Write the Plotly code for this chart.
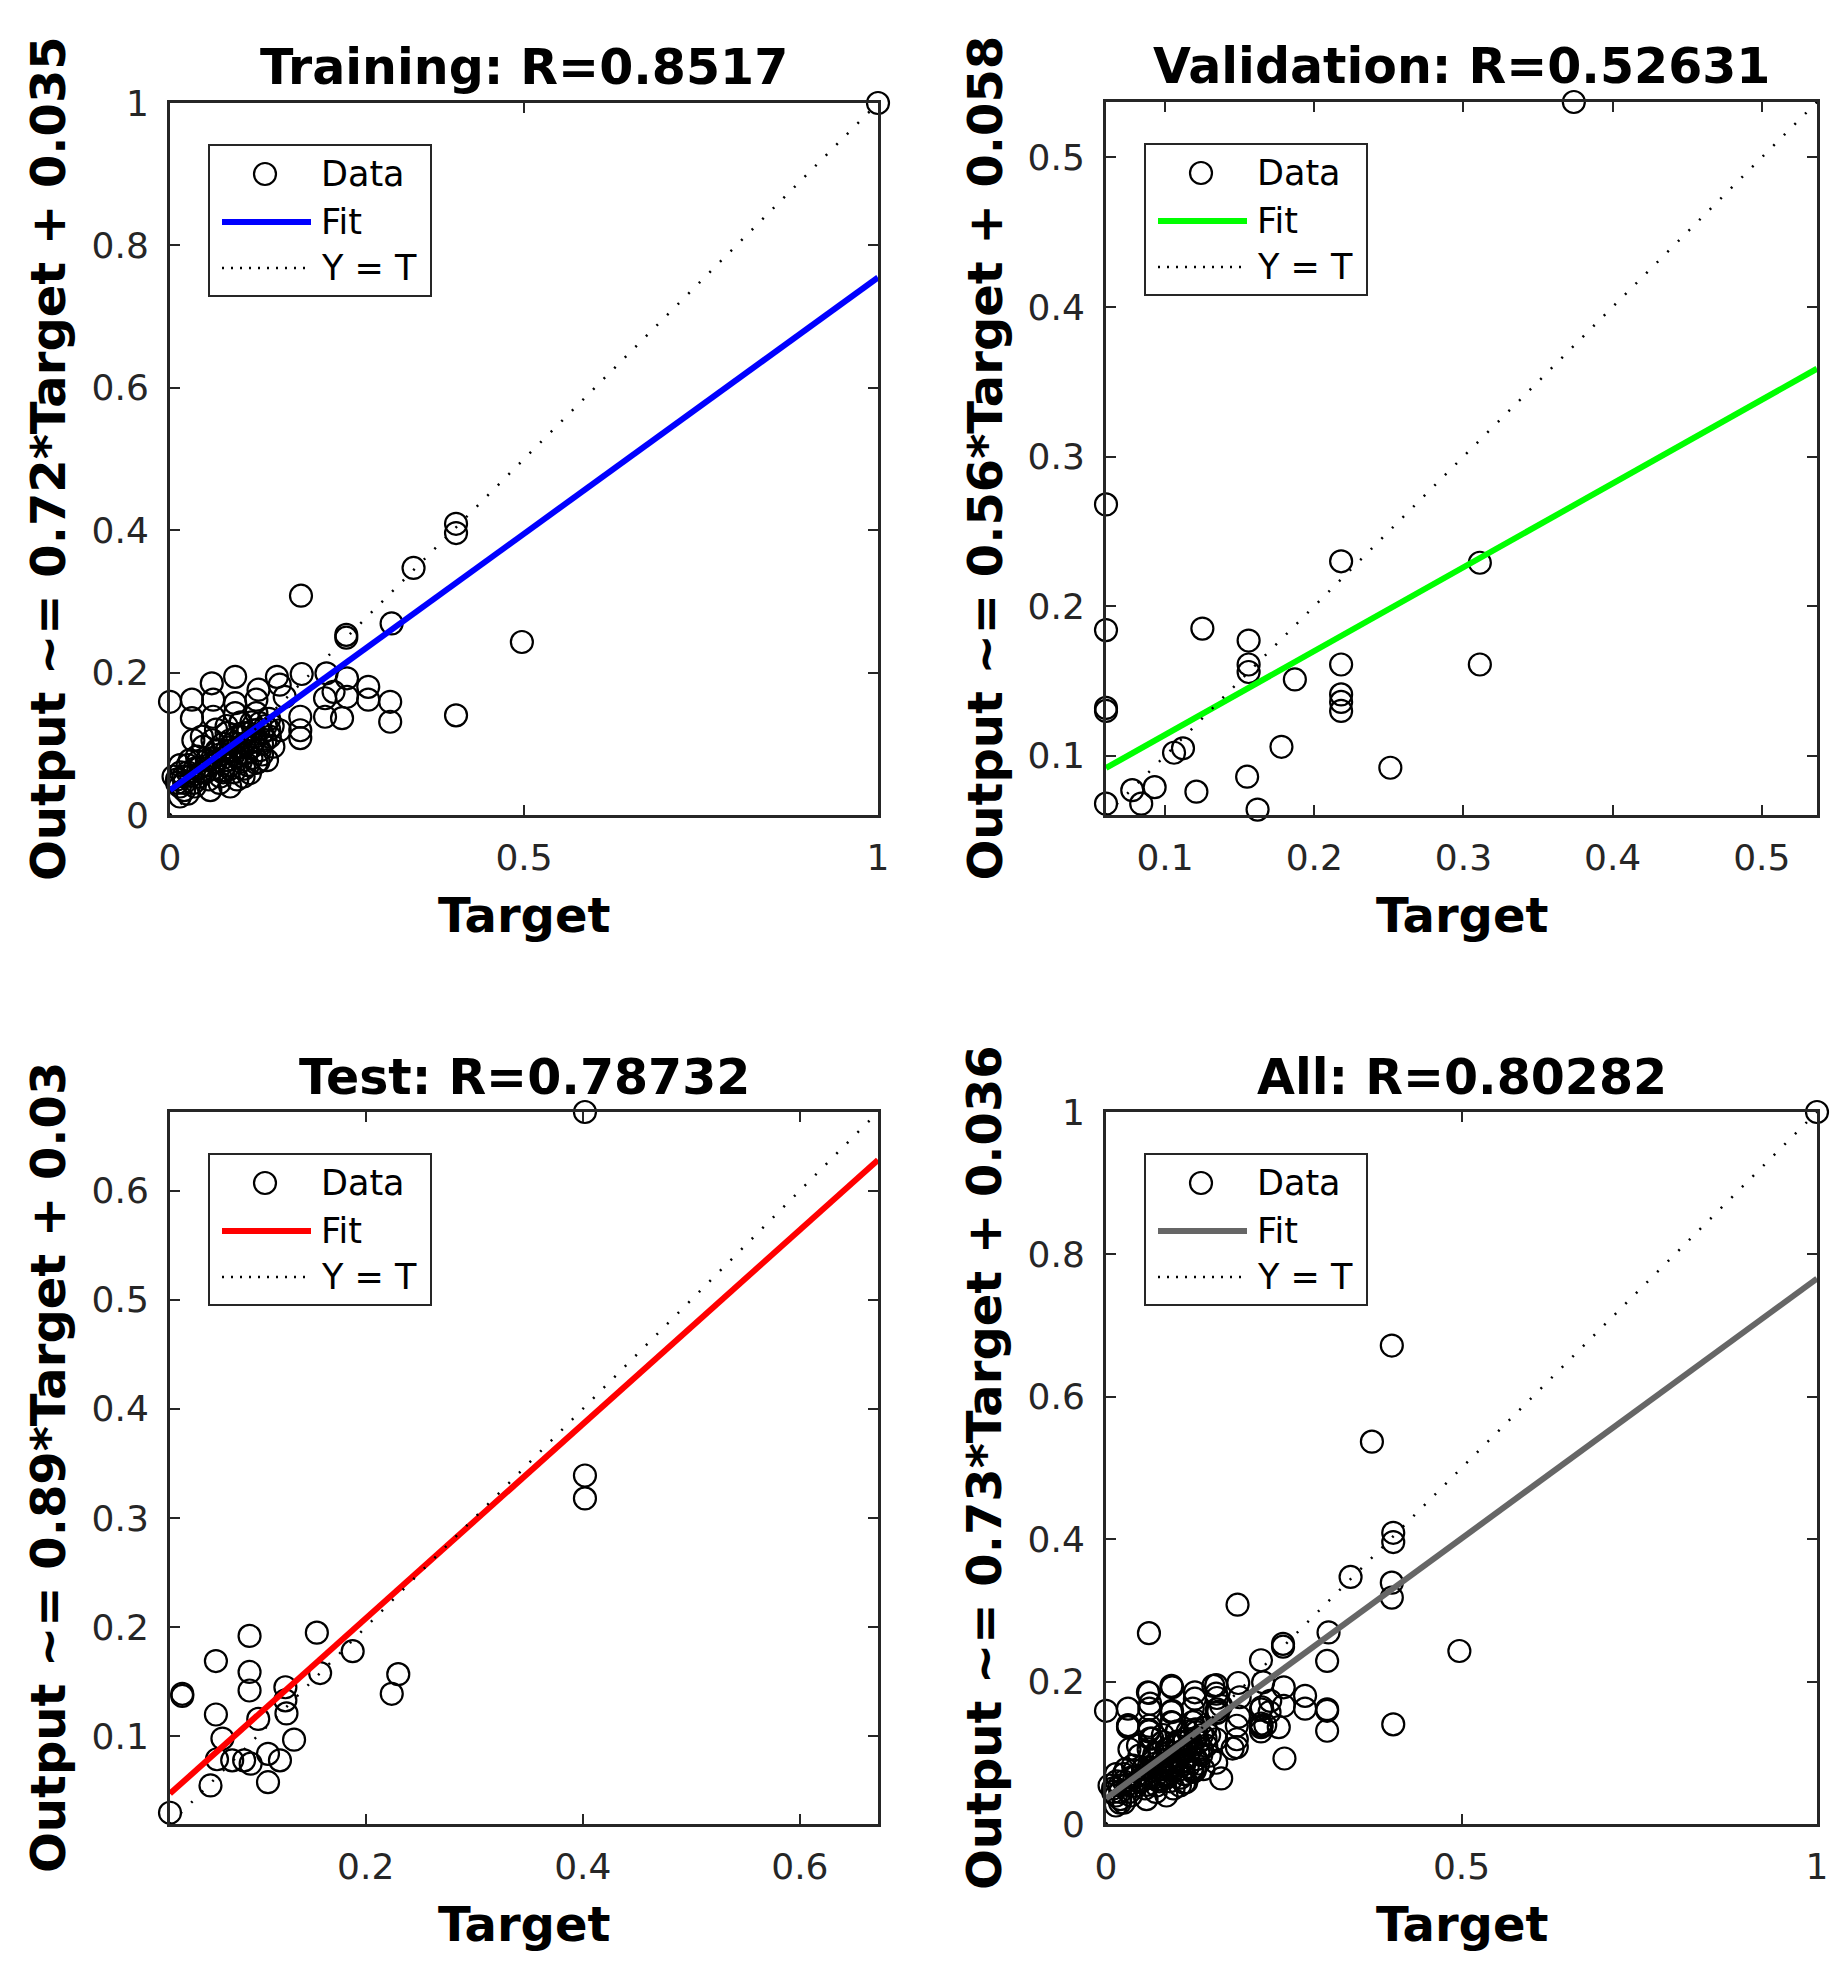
import plotly.graph_objects as go

# ==========================================
# 1. data
# ==========================================
train_target = [
    1.000, 0.404, 0.404, 0.344, 0.185, 0.313, 0.249, 0.249, 0.497, 0.404,
    0.092, 0.151, 0.186, 0.221, 0.250, 0.059, 0.155, 0.125, 0.280, 0.231,
    0.000, 0.031, 0.061, 0.092, 0.122, 0.162, 0.219, 0.250, 0.280, 0.311,
    0.031, 0.061, 0.122, 0.184, 0.219, 0.243, 0.311, 0.184, 0.184, 0.155,
    0.033, 0.092, 0.099, 0.127, 0.141, 0.146,
    0.005, 0.014, 0.014, 0.033, 0.028, 0.052, 0.042, 0.071, 0.085, 0.104,
    0.113, 0.080, 0.090, 0.104, 0.118, 0.127, 0.137, 0.122, 0.094, 0.108,
    0.080, 0.066, 0.047, 0.075, 0.038, 0.019, 0.057, 0.014,
    0.060, 0.070, 0.085, 0.095, 0.100, 0.110, 0.115, 0.120, 0.130, 0.090,
    0.050, 0.040, 0.025, 0.060, 0.075, 0.105, 0.130, 0.135, 0.140, 0.100,
    0.085, 0.020, 0.010,
    0.010, 0.015, 0.020, 0.025, 0.030, 0.035, 0.040, 0.045, 0.085, 0.055,
    0.060, 0.065, 0.075, 0.075, 0.080, 0.085, 0.090, 0.095, 0.100, 0.105,
    0.110, 0.115, 0.120, 0.125, 0.130, 0.135, 0.140, 0.145, 0.070, 0.095,
    0.110, 0.125, 0.055, 0.035, 0.025, 0.065, 0.045, 0.080, 0.100, 0.115,
]
train_output = [
    1.000, 0.409, 0.396, 0.347, 0.308, 0.269, 0.253, 0.249, 0.243, 0.140,
    0.194, 0.194, 0.198, 0.199, 0.192, 0.185, 0.183, 0.176, 0.180, 0.173,
    0.159, 0.162, 0.162, 0.157, 0.162, 0.166, 0.164, 0.166, 0.162, 0.159,
    0.136, 0.138, 0.143, 0.138, 0.138, 0.136, 0.131, 0.119, 0.108, 0.119,
    0.105, 0.143, 0.129, 0.129, 0.110, 0.096,
    0.054, 0.070, 0.026, 0.045, 0.077, 0.077, 0.054, 0.054, 0.040, 0.054,
    0.059, 0.077, 0.101, 0.115, 0.119, 0.091, 0.077, 0.073, 0.082, 0.087,
    0.115, 0.091, 0.096, 0.063, 0.082, 0.054, 0.035, 0.040,
    0.065, 0.085, 0.070, 0.095, 0.075, 0.100, 0.080, 0.105, 0.100, 0.060,
    0.060, 0.065, 0.060, 0.105, 0.100, 0.065, 0.115, 0.125, 0.135, 0.110,
    0.090, 0.035, 0.045,
    0.050, 0.060, 0.045, 0.070, 0.055, 0.065, 0.075, 0.060, 0.065, 0.070,
    0.080, 0.075, 0.060, 0.080, 0.090, 0.105, 0.085, 0.110, 0.095, 0.100,
    0.115, 0.095, 0.110, 0.120, 0.085, 0.105, 0.120, 0.125, 0.045, 0.050,
    0.070, 0.075, 0.050, 0.040, 0.030, 0.120, 0.110, 0.125, 0.130, 0.130,
]

val_target = [
    0.374, 0.0604, 0.0604, 0.0604, 0.0604, 0.0604, 0.078, 0.084, 0.093, 0.106,
    0.112, 0.121, 0.125, 0.156, 0.156, 0.156, 0.155, 0.162, 0.178, 0.187,
    0.218, 0.218, 0.218, 0.218, 0.218, 0.251, 0.311, 0.311,
]
val_output = [
    0.537, 0.268, 0.184, 0.132, 0.130, 0.068, 0.077, 0.068, 0.079, 0.102,
    0.105, 0.076, 0.185, 0.177, 0.161, 0.156, 0.086, 0.064, 0.106, 0.151,
    0.230, 0.161, 0.141, 0.136, 0.130, 0.092, 0.229, 0.161,
]

test_target = [
    0.0197, 0.031, 0.031, 0.062, 0.062, 0.068, 0.057, 0.063, 0.077, 0.088,
    0.093, 0.093, 0.093, 0.094, 0.101, 0.110, 0.121, 0.110, 0.126, 0.126,
    0.127, 0.134, 0.155, 0.158, 0.188, 0.230, 0.224, 0.402, 0.402, 0.402,
]
test_output = [
    0.030, 0.137, 0.139, 0.169, 0.120, 0.098, 0.055, 0.079, 0.078, 0.078,
    0.192, 0.159, 0.142, 0.075, 0.116, 0.084, 0.078, 0.058, 0.145, 0.133,
    0.121, 0.097, 0.195, 0.158, 0.178, 0.157, 0.139, 0.672, 0.339, 0.318,
]

all_target = train_target + val_target + test_target
all_output = train_output + val_output + test_output

panel_names = ["Training", "Validation", "Test", "All"]
r_values = ["0.8517", "0.52631", "0.78732", "0.80282"]
fit_slope = [0.72, 0.56, 0.89, 0.73]
fit_offset = [0.035, 0.058, 0.03, 0.036]
fit_colors = ["#0000ff", "#00ff00", "#ff0000", "#666666"]
x_dtick = [0.5, 0.1, 0.2, 0.5]
y_dtick = [0.2, 0.1, 0.1, 0.2]

targets = [train_target, val_target, test_target, all_target]
outputs = [train_output, val_output, test_output, all_output]

# ==========================================
# 2. page geometry (pixels)
# ==========================================
W, H = 1840, 1978
# left, top, right, bottom of every plot box
boxes = [(170, 103, 878, 815), (1106, 102, 1817, 815),
         (170, 1112, 878, 1824), (1106, 1112, 1817, 1824)]

FONT = "DejaVu Sans"
AXC = "#262626"


def px(x):
    return x / W


def py(y):
    return 1 - y / H


fig = go.Figure()
shapes = []
annotations = []

for i in range(4):
    t, o = targets[i], outputs[i]
    lo = min(min(t), min(o))
    hi = max(max(t), max(o))
    xa = "x" if i == 0 else f"x{i + 1}"
    ya = "y" if i == 0 else f"y{i + 1}"
    left, top, right, bottom = boxes[i]

    fig.add_trace(go.Scatter(
        x=t, y=o, mode="markers", xaxis=xa, yaxis=ya, showlegend=False,
        cliponaxis=False,
        marker=dict(symbol="circle-open", size=22, color="black",
                    line=dict(width=2.2)),
    ))
    fig.add_trace(go.Scatter(
        x=[lo, hi], y=[fit_slope[i] * lo + fit_offset[i], fit_slope[i] * hi + fit_offset[i]],
        mode="lines", xaxis=xa, yaxis=ya, showlegend=False,
        line=dict(color=fit_colors[i], width=6),
    ))
    fig.add_trace(go.Scatter(
        x=[lo, hi], y=[lo, hi], mode="lines", xaxis=xa, yaxis=ya,
        showlegend=False, line=dict(color="black", width=2.5, dash="2px,13px"),
    ))

    axis_common = dict(
        showline=True, linecolor=AXC, linewidth=3, mirror="ticks",
        ticks="inside", ticklen=10, tickwidth=2, tickcolor=AXC,
        showgrid=False, zeroline=False, tick0=0, automargin=False,
        tickfont=dict(family=FONT, size=36, color=AXC),
    )
    fig.layout[f"xaxis{'' if i == 0 else i + 1}"] = dict(
        axis_common, domain=[px(left), px(right)], range=[lo, hi],
        dtick=x_dtick[i], anchor=ya, ticklabelstandoff=9,
    )
    fig.layout[f"yaxis{'' if i == 0 else i + 1}"] = dict(
        axis_common, domain=[py(bottom), py(top)], range=[lo, hi],
        dtick=y_dtick[i], anchor=xa, ticklabelstandoff=11,
    )

    cx = (left + right) / 2
    cy = (top + bottom) / 2
    # title, axis labels
    annotations.append(dict(
        text=f"{panel_names[i]}: R={r_values[i]}", x=px(cx), y=py(top - 35),
        xref="paper", yref="paper", showarrow=False, xanchor="center", yanchor="middle",
        font=dict(family=FONT, size=49, color="black", weight="bold"),
    ))
    annotations.append(dict(
        text="Target", x=px(cx), y=py(bottom + 100),
        xref="paper", yref="paper", showarrow=False, xanchor="center", yanchor="middle",
        font=dict(family=FONT, size=48, color="black", weight="bold"),
    ))
    annotations.append(dict(
        text=f"Output ~= {fit_slope[i]}*Target + {fit_offset[i]}",
        x=px(left - 122), y=py(cy), textangle=-90,
        xref="paper", yref="paper", showarrow=False, xanchor="center", yanchor="middle",
        font=dict(family=FONT, size=48, color="black", weight="bold"),
    ))

    # legend box in the upper left corner of the plot
    lx, ly = left + 39, top + 42
    shapes.append(dict(type="rect", xref="paper", yref="paper",
                       x0=px(lx), x1=px(lx + 222), y0=py(ly + 151), y1=py(ly),
                       line=dict(color=AXC, width=2), fillcolor="white", layer="above"))
    shapes.append(dict(type="circle", xref="paper", yref="paper",
                       xsizemode="pixel", ysizemode="pixel",
                       xanchor=px(lx + 56), yanchor=py(ly + 29),
                       x0=-11, x1=11, y0=-11, y1=11,
                       line=dict(color="black", width=2.2), layer="above"))
    shapes.append(dict(type="line", xref="paper", yref="paper",
                       x0=px(lx + 13), x1=px(lx + 102), y0=py(ly + 77), y1=py(ly + 77),
                       line=dict(color=fit_colors[i], width=6), layer="above"))
    shapes.append(dict(type="line", xref="paper", yref="paper",
                       x0=px(lx + 13), x1=px(lx + 102), y0=py(ly + 123), y1=py(ly + 123),
                       line=dict(color="black", width=2.5, dash="2px,7px"), layer="above"))
    for label, dy in (("Data", 29), ("Fit", 77), ("Y = T", 123)):
        annotations.append(dict(
            text=label, x=px(lx + 110), y=py(ly + dy),
            xref="paper", yref="paper", showarrow=False, xanchor="left", yanchor="middle",
            font=dict(family=FONT, size=35, color="black"),
        ))

fig.update_layout(
    width=W, height=H,
    margin=dict(l=0, r=0, t=0, b=0, autoexpand=False),
    paper_bgcolor="white", plot_bgcolor="white",
    shapes=shapes, annotations=annotations,
    showlegend=False,
)

# drop the page's default body margin so the figure fills the window exactly
fig.write_html("out.html", config={"displayModeBar": False},
               post_script="document.body.style.margin = '0';")
